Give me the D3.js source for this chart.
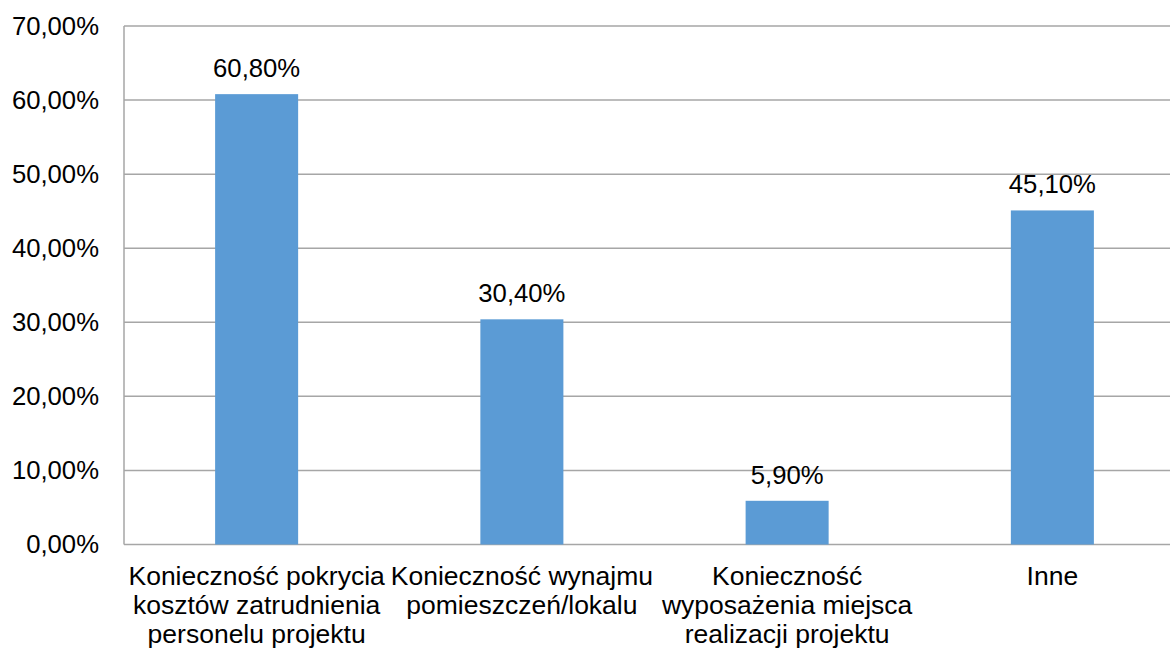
<!doctype html>
<html lang="pl">

<head>
  <title>Koszty projektu</title>
  <meta charset="utf-8" />
  <script src="https://d3js.org/d3.v7.min.js"></script>
  <style>
    body { margin: 0; background: #fff; }
    svg text { font-family: "Liberation Sans", Arial, sans-serif; fill: #000; }
  </style>
</head>

<body>
  <figure id="bar-chart" style="margin:0"></figure>

  <script>
    // chart data
    const categories = [
      "Konieczność pokrycia kosztów zatrudnienia personelu projektu",
      "Konieczność wynajmu pomieszczeń/lokalu",
      "Konieczność wyposażenia miejsca realizacji projektu",
      "Inne"
    ];
    const categoryLines = [
      ["Konieczność pokrycia", "kosztów zatrudnienia", "personelu projektu"],
      ["Konieczność wynajmu", "pomieszczeń/lokalu"],
      ["Konieczność", "wyposażenia miejsca", "realizacji projektu"],
      ["Inne"]
    ];
    const values = [0.608, 0.304, 0.059, 0.451];
    const yTicks = [0, 0.1, 0.2, 0.3, 0.4, 0.5, 0.6, 0.7];

    const plLocale = d3.formatLocale({
      decimal: ",",
      thousands: " ",
      grouping: [3],
      currency: ["", " zł"]
    });
    const pct = plLocale.format(".2%");

    const params = {
      width: 1170,
      height: 649,
      left: 124,
      right: 1185,
      top: 26,
      bottom: 544.5,
      fontSize: 25.7,
      catFontSize: 26.5
    };

    const svg = d3.select("#bar-chart").append("svg")
      .attr("width", params.width)
      .attr("height", params.height);

    const xScale = d3.scaleBand()
      .domain(categories)
      .range([params.left, params.right])
      .paddingInner(0.687)
      .paddingOuter(0.687 / 2);

    const yScale = d3.scaleLinear()
      .domain([0, 0.7])
      .range([params.bottom, params.top]);

    // horizontal gridlines
    svg.append("g")
      .selectAll("line")
      .data(yTicks)
      .join("line")
      .attr("x1", params.left)
      .attr("x2", params.right)
      .attr("y1", d => yScale(d))
      .attr("y2", d => yScale(d))
      .attr("stroke", "#a6a6a6")
      .attr("stroke-width", 1.5);

    // left axis line
    svg.append("line")
      .attr("x1", params.left)
      .attr("x2", params.left)
      .attr("y1", params.top)
      .attr("y2", params.bottom)
      .attr("stroke", "#a6a6a6")
      .attr("stroke-width", 1.5);

    // y tick labels
    svg.append("g")
      .selectAll("text")
      .data(yTicks)
      .join("text")
      .attr("x", params.left - 25)
      .attr("y", d => yScale(d))
      .attr("dy", "0.35em")
      .attr("text-anchor", "end")
      .style("font-size", params.fontSize + "px")
      .text(d => pct(d));

    // bars
    const bars = svg.append("g")
      .selectAll("g.bar")
      .data(categories.map((c, i) => ({ cat: c, value: values[i], lines: categoryLines[i] })))
      .join("g")
      .attr("class", "bar");

    bars.append("rect")
      .attr("x", d => xScale(d.cat))
      .attr("y", d => yScale(d.value))
      .attr("width", xScale.bandwidth())
      .attr("height", d => yScale(0) - yScale(d.value))
      .attr("fill", "#5b9bd5");

    // value labels above bars
    bars.append("text")
      .attr("x", d => xScale(d.cat) + xScale.bandwidth() / 2)
      .attr("y", d => yScale(d.value) - 17)
      .attr("text-anchor", "middle")
      .style("font-size", params.fontSize + "px")
      .text(d => pct(d.value));

    // wrapped category labels
    bars.append("text")
      .attr("text-anchor", "middle")
      .style("font-size", params.catFontSize + "px")
      .selectAll("tspan")
      .data(d => d.lines.map(l => ({ line: l, cat: d.cat })))
      .join("tspan")
      .attr("x", d => xScale(d.cat) + xScale.bandwidth() / 2)
      .attr("y", (d, i) => 585 + i * 29)
      .text(d => d.line);
  </script>

</body></html>
